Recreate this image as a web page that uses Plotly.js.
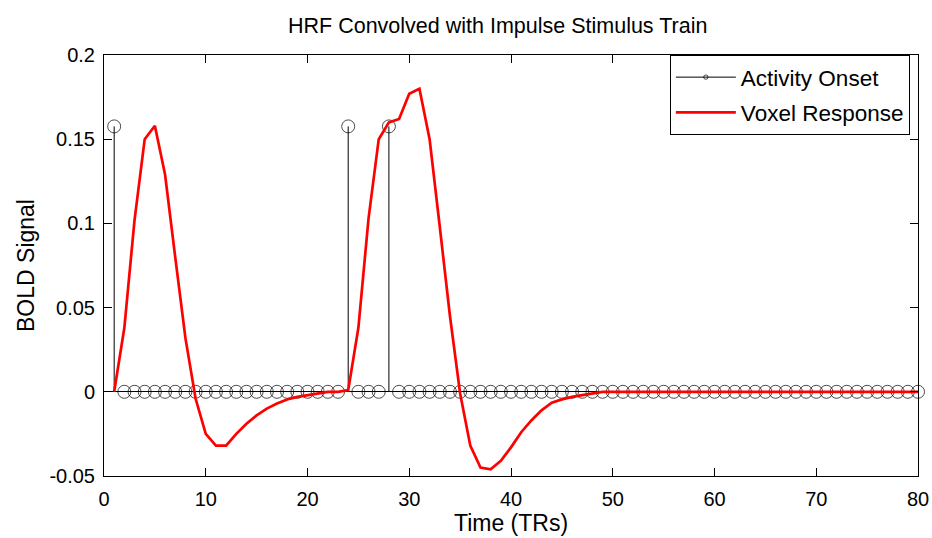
<!DOCTYPE html>
<html>
<head>
<meta charset="utf-8">
<script src="https://cdn.plot.ly/plotly-3.0.1.min.js"></script>
<style>
  html, body { margin: 0; padding: 0; background: #ffffff; }
  #myChart { width: 932px; height: 538px; }
</style>
</head>
<body>
<div id="myChart"></div>
<script>
// impulse stimulus train: onset TRs and the stem height
const onset_times = [1, 24, 28];
const onset_height = 0.1576;

// voxel response, one value per TR (1..80)
const voxel_response = [
    0, 0.038, 0.102, 0.150, 0.158, 0.129, 0.080, 0.032, -0.004, -0.025,
    -0.032, -0.032, -0.025, -0.019, -0.014, -0.010, -0.007, -0.0046, -0.003, -0.002,
    -0.0006, 0, 0, 0.001, 0.038, 0.103, 0.150, 0.160, 0.162, 0.177,
    0.180, 0.150, 0.098, 0.045, -0.001, -0.032, -0.045, -0.046, -0.041, -0.033,
    -0.024, -0.017, -0.011, -0.0065, -0.0045, -0.003, -0.002, -0.001, 0, 0,
    0, 0, 0, 0, 0, 0, 0, 0, 0, 0,
    0, 0, 0, 0, 0, 0, 0, 0, 0, 0,
    0, 0, 0, 0, 0, 0, 0, 0, 0, 0
];

const x_ticks = [0, 10, 20, 30, 40, 50, 60, 70, 80];
const y_ticks = [-0.05, 0, 0.05, 0.1, 0.15, 0.2];
const y_tick_labels = ['-0.05', '0', '0.05', '0.1', '0.15', '0.2'];

const FONT = 'Liberation Sans, Arial, sans-serif';

function make_chart() {
    let time = new Array();
    for (let i = 0; i < voxel_response.length; i++) {
        time.push(i + 1);
    }

    // stems: tip point, base point, gap
    let stem_x = new Array();
    let stem_y = new Array();
    let stem_color = new Array();
    let stem_size = new Array();
    for (let i = 0; i < time.length; i++) {
        const v = onset_times.includes(time[i]) ? onset_height : 0;
        stem_x.push(time[i], time[i], null);
        stem_y.push(v, 0, null);
        stem_color.push('#000000', 'rgba(0,0,0,0)', 'rgba(0,0,0,0)');
        stem_size.push(13, 0, 0);
    }

    const trace1 = {
        x: stem_x,
        y: stem_y,
        type: 'scatter',
        mode: 'lines+markers',
        name: 'Activity Onset',
        legendgroup: 'a',
        connectgaps: false,
        cliponaxis: false,
        line: { color: '#000000', width: 1 },
        marker: {
            symbol: 'circle-open',
            size: stem_size,
            color: stem_color,
            line: { width: 1 }
        },
        hoverinfo: 'skip'
    };

    const trace2 = {
        x: time,
        y: voxel_response,
        type: 'scatter',
        mode: 'lines',
        name: 'Voxel Response',
        legendgroup: 'b',
        line: { color: '#ff0000', width: 2.7 }
    };

    const layout = {
        width: 932,
        height: 538,
        font: { family: FONT, size: 20, color: '#000000' },
        title: {
            text: 'HRF Convolved with Impulse Stimulus Train',
            font: { family: FONT, size: 21.5, color: '#000000' },
            xref: 'container',
            x: 0.534,
            xanchor: 'center',
            yref: 'container',
            y: 0.952,
            yanchor: 'middle'
        },
        xaxis: {
            title: { text: 'Time (TRs)', standoff: 0, font: { size: 23 } },
            range: [0, 80],
            tickvals: x_ticks,
            ticks: 'inside',
            ticklen: 8,
            tickcolor: '#000000',
            ticklabelstandoff: 5,
            showline: true,
            linecolor: '#000000',
            linewidth: 1,
            mirror: 'ticks',
            showgrid: false,
            zeroline: false
        },
        yaxis: {
            title: { text: 'BOLD Signal', standoff: 8, font: { size: 23 } },
            range: [-0.05, 0.2],
            tickvals: y_ticks,
            ticktext: y_tick_labels,
            ticks: 'inside',
            ticklen: 8,
            tickcolor: '#000000',
            ticklabelstandoff: 4,
            showline: true,
            linecolor: '#000000',
            linewidth: 1,
            mirror: 'ticks',
            showgrid: false,
            zeroline: true,
            zerolinecolor: '#000000',
            zerolinewidth: 1
        },
        showlegend: true,
        legend: {
            x: 0.990,
            xanchor: 'right',
            y: 1.0,
            yanchor: 'top',
            bgcolor: '#ffffff',
            bordercolor: '#000000',
            borderwidth: 1,
            traceorder: 'grouped',
            tracegroupgap: 3,
            itemwidth: 60,
            font: { family: FONT, size: 22.5, color: '#000000' }
        },
        paper_bgcolor: '#ffffff',
        plot_bgcolor: '#ffffff',
        margin: { t: 55, b: 62, l: 104, r: 14 },
        hovermode: false
    };

    return [[trace1, trace2], layout];
}

let hi = make_chart();
Plotly.newPlot('myChart', hi[0], hi[1], { displayModeBar: false, staticPlot: true });
</script>
</body>
</html>
